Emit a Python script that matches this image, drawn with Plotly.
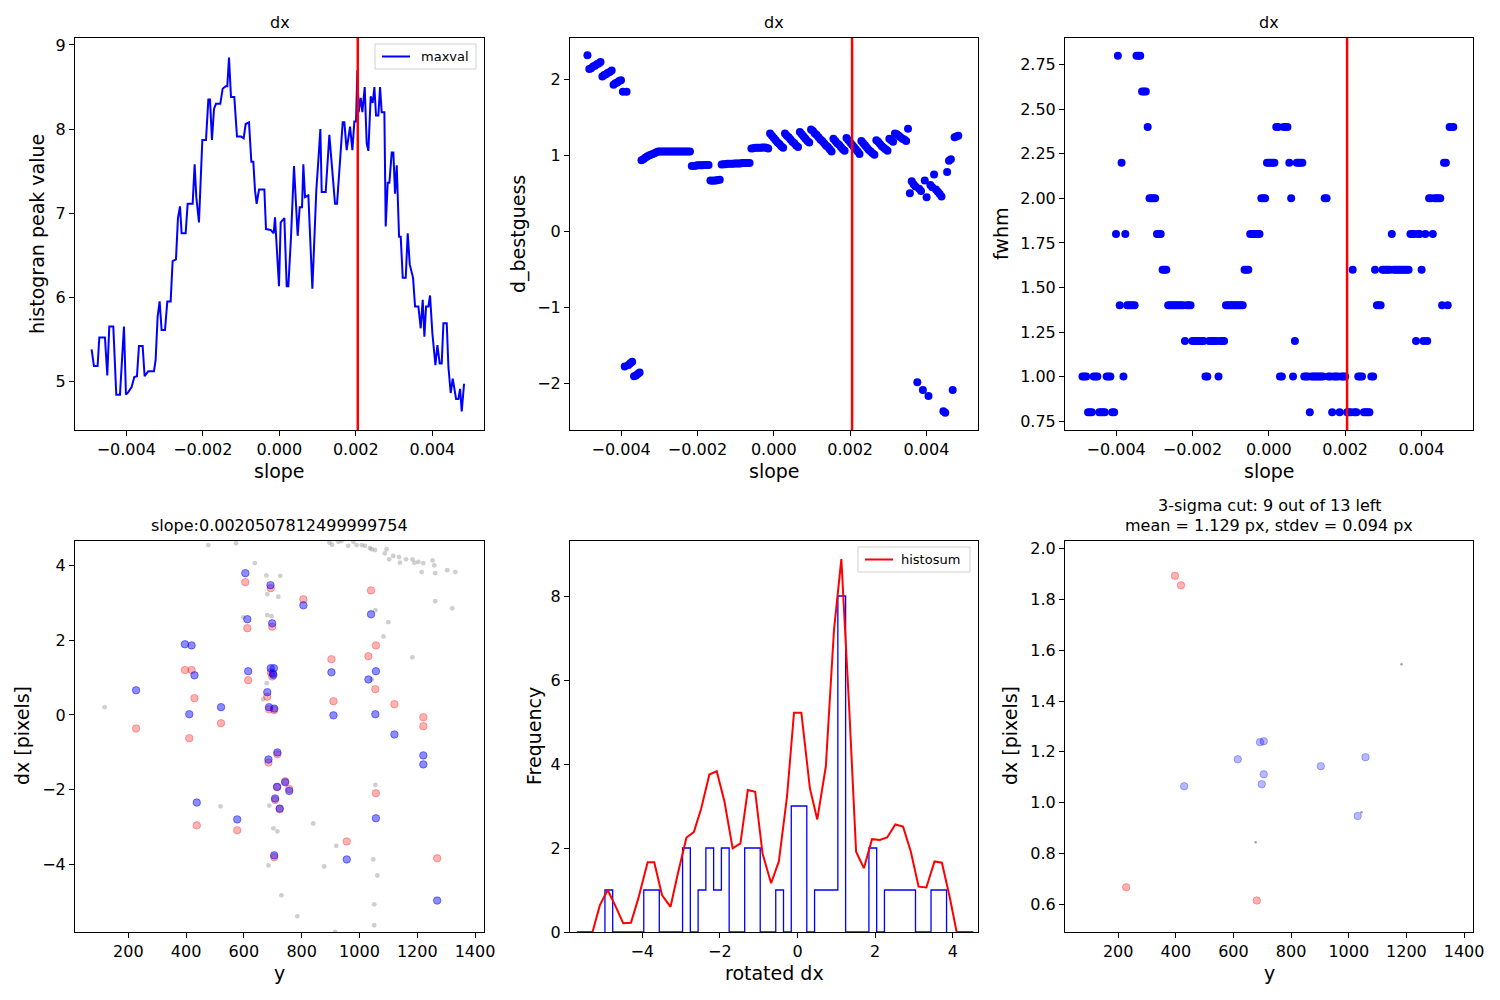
import numpy as np
import plotly.graph_objects as go

FONT = "DejaVu Sans"

# ---------------- data ----------------
RED_SLOPE = 0.0020507812499999754

# panel 1: histogram peak value vs slope (polyline vertices)
maxval_slope = [-0.004906, -0.004845, -0.004749, -0.004705, -0.004557, -0.004496, -0.004444, -0.004339, -0.004261, -0.004165,
                -0.004060, -0.004008, -0.003947, -0.003860, -0.003790, -0.003721, -0.003668, -0.003572, -0.003520, -0.003424,
                -0.003276, -0.003233, -0.003180, -0.003128, -0.003076, -0.002988, -0.002927, -0.002840, -0.002788, -0.002701,
                -0.002649, -0.002596, -0.002553, -0.002448, -0.002396, -0.002265, -0.002213, -0.002169, -0.002100, -0.002012,
                -0.001916, -0.001855, -0.001812, -0.001760, -0.001707, -0.001655, -0.001542, -0.001481, -0.001402, -0.001359,
                -0.001315, -0.001263, -0.001176, -0.001106, -0.001001, -0.000932, -0.000879, -0.000792, -0.000731, -0.000679,
                -0.000635, -0.000592, -0.000531, -0.000391, -0.000348, -0.000226, -0.000147, -0.000112, -0.000078, -0.000008,
                0.000036, 0.000132, 0.000193, 0.000236, 0.000306, 0.000384, 0.000480, 0.000533, 0.000594, 0.000628,
                0.000672, 0.000759, 0.000864, 0.000968, 0.001021, 0.001073, 0.001108, 0.001212, 0.001308, 0.001369,
                0.001456, 0.001509, 0.001587, 0.001657, 0.001700, 0.001761, 0.001849, 0.001910, 0.001962, 0.002005,
                0.002040, 0.002075, 0.002127, 0.002171, 0.002232, 0.002284, 0.002328, 0.002389, 0.002441, 0.002485,
                0.002528, 0.002589, 0.002633, 0.002676, 0.002746, 0.002781, 0.002833, 0.002877, 0.002938, 0.002981,
                0.003025, 0.003069, 0.003130, 0.003173, 0.003226, 0.003304, 0.003356, 0.003409, 0.003496, 0.003548,
                0.003635, 0.003696, 0.003748, 0.003792, 0.003836, 0.003897, 0.003940, 0.004001, 0.004080, 0.004132,
                0.004193, 0.004245, 0.004289, 0.004376, 0.004420, 0.004480, 0.004533, 0.004620, 0.004681, 0.004725,
                0.004768, 0.004829]
maxval = [5.38, 5.18, 5.18, 5.52, 5.52, 5.07, 5.65, 5.65, 4.84, 4.84,
          5.65, 4.84, 4.87, 4.93, 5.05, 5.06, 5.42, 5.42, 5.06, 5.12,
          5.12, 5.25, 5.77, 5.95, 5.61, 5.61, 5.95, 5.95, 6.43, 6.45,
          6.94, 7.08, 6.76, 6.76, 7.11, 7.11, 7.58, 7.19, 6.89, 7.87,
          7.87, 8.35, 8.35, 7.87, 8.24, 8.30, 8.30, 8.48, 8.51, 8.51,
          8.85, 8.38, 8.38, 7.91, 7.91, 7.89, 8.06, 8.08, 7.61, 7.61,
          7.27, 7.11, 7.28, 7.28, 6.81, 6.80, 6.76, 6.95, 6.68, 6.13,
          6.89, 6.94, 6.13, 6.13, 6.72, 7.56, 6.73, 7.07, 7.07, 7.58,
          7.19, 7.21, 6.10, 7.28, 7.63, 8.00, 7.25, 7.25, 7.93, 7.59,
          7.11, 7.11, 7.63, 8.08, 8.08, 7.75, 8.03, 7.75, 8.09, 8.09,
          8.70, 8.20, 8.37, 8.20, 8.50, 7.83, 7.74, 8.39, 8.31, 8.50,
          8.16, 8.16, 8.50, 8.20, 8.20, 6.84, 7.36, 7.36, 7.72, 7.72,
          7.23, 7.57, 6.72, 6.72, 6.23, 6.23, 6.76, 6.39, 6.23, 5.89,
          5.89, 5.63, 5.97, 5.53, 5.89, 5.89, 6.02, 5.57, 5.19, 5.43,
          5.21, 5.21, 5.69, 5.69, 5.17, 4.86, 5.03, 4.79, 4.79, 4.91,
          4.64, 4.97]

# slope grid (shift in pixels over 1024 px)
shift_px = np.round(np.arange(-5.0, 5.0, 0.05), 2)
slopes = shift_px / 1024.0

# panel 2: d_bestguess per slope
d_bestguess = [2.32, 2.14, 2.15, 2.17, 2.18, 2.20, 2.21, 2.23, 2.04, 2.06,
               2.07, 2.09, 2.10, 2.12, 1.93, 1.95, 1.96, 1.98, 1.99, 1.84,
               -1.78, 1.84, -1.76, -1.74, -1.72, -1.91, -1.90, -1.88, -1.86, 0.935,
               0.95, 0.97, 0.985, 1.00, 1.01, 1.02, 1.03, 1.04, 1.05, 1.05,
               1.05, 1.05, 1.05, 1.05, 1.05, 1.05, 1.05, 1.05, 1.05, 1.05,
               1.05, 1.05, 1.05, 1.05, 1.05, 1.05, 0.86, 0.86, 0.865, 0.87,
               0.87, 0.87, 0.87, 0.875, 0.875, 0.875, 0.67, 0.665, 0.67, 0.67,
               0.675, 0.68, 0.88, 0.885, 0.885, 0.89, 0.89, 0.89, 0.89, 0.895,
               0.895, 0.895, 0.895, 0.90, 0.90, 0.90, 0.90, 0.90, 1.09, 1.095,
               1.10, 1.10, 1.10, 1.10, 1.105, 1.105, 1.10, 1.09, 1.29, 1.26,
               1.23, 1.20, 1.17, 1.15, 1.12, 1.10, 1.29, 1.26, 1.24, 1.21,
               1.18, 1.16, 1.13, 1.11, 1.31, 1.28, 1.25, 1.22, 1.19, 1.17,
               1.34, 1.32, 1.29, 1.27, 1.24, 1.21, 1.19, 1.16, 1.13, 1.11,
               1.08, 1.05, 1.22, 1.19, 1.16, 1.14, 1.11, 1.08, 1.06, 1.23,
               1.20, 1.17, 1.14, 1.11, 1.08, 1.05, 1.02, 1.19, 1.16, 1.13,
               1.10, 1.07, 1.05, 1.03, 1.01, 1.20, 1.18, 1.15, 1.12, 1.10,
               1.08, 1.06, 1.22, 1.20, 1.18, 1.29, 1.28, 1.26, 1.24, 1.22,
               1.21, 1.19, 1.35, 0.50, 0.66, 0.62, 0.59, -1.99, 0.56, 0.53,
               -2.09, 0.67, 0.45, -2.17, 0.61, 0.58, 0.75, 0.55, 0.52, 0.49,
               0.46, -2.37, -2.39, 0.78, 0.93, 0.95, -2.09, 1.24, 1.25, 1.26]

# panel 3: fwhm per slope
fwhm = [1.0, 1.0, 1.0, 0.8, 0.8, 0.8, 1.0, 1.0, 1.0, 0.8,
        0.8, 0.8, 0.8, 1.0, 1.0, 1.0, 0.8, 0.8, 1.8, 2.8,
        1.4, 2.2, 1.0, 1.8, 1.4, 1.4, 1.4, 1.4, 1.4, 2.8,
        2.8, 2.8, 2.6, 2.6, 2.6, 2.4, 2.0, 2.0, 2.0, 2.0,
        1.8, 1.8, 1.8, 1.6, 1.6, 1.6, 1.4, 1.4, 1.4, 1.4,
        1.4, 1.4, 1.4, 1.4, 1.4, 1.2, 1.4, 1.4, 1.4, 1.2,
        1.2, 1.2, 1.2, 1.2, 1.2, 1.2, 1.0, 1.0, 1.2, 1.2,
        1.2, 1.2, 1.2, 1.0, 1.2, 1.2, 1.2, 1.4, 1.4, 1.4,
        1.4, 1.4, 1.4, 1.4, 1.4, 1.4, 1.4, 1.6, 1.6, 1.6,
        1.8, 1.8, 1.8, 1.8, 1.8, 1.8, 2.0, 2.0, 2.0, 2.2,
        2.2, 2.2, 2.2, 2.2, 2.4, 2.4, 1.0, 1.0, 2.4, 2.4,
        2.4, 2.2, 2.0, 1.0, 1.2, 2.2, 2.2, 2.2, 2.2, 1.0,
        1.0, 1.0, 0.8, 1.0, 1.0, 1.0, 1.0, 1.0, 1.0, 1.0,
        2.0, 2.0, 1.0, 1.0, 0.8, 1.0, 1.0, 1.0, 0.8, 1.0,
        1.0, 1.0, 0.8, 0.8, 0.8, 1.6, 0.8, 0.8, 1.0, 1.0,
        1.0, 0.8, 0.8, 0.8, 0.8, 1.0, 1.0, 1.6, 1.4, 1.4,
        1.4, 1.6, 1.6, 1.6, 1.6, 1.6, 1.8, 1.6, 1.6, 1.6,
        1.6, 1.6, 1.6, 1.6, 1.6, 1.6, 1.8, 1.8, 1.8, 1.2,
        1.8, 1.8, 1.6, 1.2, 1.8, 1.2, 2.0, 2.0, 1.8, 2.0,
        2.0, 2.0, 2.0, 1.4, 2.2, 2.2, 1.4, 2.4, 2.4, 2.4]

# panel 4: dx vs y
gray_y = [477, 573, 638, 678, 726, 681, 719, 598, 681, 696, 896, 905, 927, 938, 961, 979, 990, 1008, 1019, 1036,
          1042, 1054, 1094, 1088, 1103, 1117, 1137, 1140, 1161, 1183, 1190, 1204, 1221, 1253, 1259, 1215, 1262, 1304, 1332, 1262,
          1321, 1055, 1100, 1083, 1183, 679, 667, 118, 1043, 688, 519, 840, 702, 716, 920, 878, 685, 1048, 1062, 730,
          1051, 785, 1051, 916, 1055]
gray_dx = [4.54, 4.59, 4.06, 3.73, 3.72, 3.23, 3.16, 2.61, 2.67, 2.64, 4.61, 4.55, 4.63, 4.65, 4.52, 4.63, 4.54, 4.54, 4.52, 4.46,
           4.43, 4.41, 4.43, 4.32, 4.16, 4.25, 4.22, 4.07, 4.16, 4.16, 4.07, 4.09, 4.06, 4.13, 4.00, 3.82, 3.79, 3.87, 3.82, 3.04,
           2.85, 2.80, 2.48, 2.10, 1.54, 0.85, 0.42, 0.21, 0.95, -2.42, -2.44, -2.90, -3.03, -3.11, -3.50, -4.05, -4.02, -3.86, -4.29, -4.82,
           -5.06, -5.38, -5.62, -5.80, -1.87]
red_y = [605, 693, 806, 1040, 612, 698, 1057, 903, 1031, 396, 419, 615, 693, 698, 1055, 429, 681, 910, 1121, 1221,
         1221, 227, 521, 411, 687, 705, 716, 685, 743, 757, 715, 708, 724, 1057, 437, 577, 956, 1269, 705]
red_dx = [3.55, 3.39, 3.09, 3.33, 2.32, 2.36, 1.86, 1.49, 1.57, 1.20, 1.20, 0.93, 1.14, 1.03, 0.69, 0.45, 0.49, 0.37, 0.29, -0.06,
          -0.30, -0.36, -0.22, -0.62, 0.15, 0.13, -1.05, -1.27, -1.77, -1.98, -1.93, -2.27, -2.52, -2.09, -2.95, -3.08, -3.38, -3.83, -3.80]
blue_y = [605, 692, 806, 612, 698, 396, 419, 1040, 429, 615, 693, 704, 700, 702, 903, 1057, 1031, 227, 681, 521,
          411, 687, 705, 910, 1055, 1121, 1221, 1221, 716, 685, 743, 715, 757, 708, 724, 437, 577, 1057, 705, 956, 1269]
blue_dx = [3.79, 3.47, 2.93, 2.56, 2.45, 1.89, 1.86, 2.69, 1.06, 1.17, 1.25, 1.25, 1.11, 1.07, 1.14, 1.17, 0.95, 0.66, 0.61, 0.21,
           0.02, 0.21, 0.17, -0.01, 0.02, -0.52, -1.08, -1.32, -1.00, -1.19, -1.80, -1.92, -2.03, -2.23, -2.50, -2.34, -2.79, -2.76, -3.75, -3.86, -4.96]

# panel 5: histogram of rotated dx and histosum
hist_edges = [-4.96, -4.76, -4.56, -4.36, -4.16, -3.96, -3.76, -3.56, -3.36, -3.16, -2.96, -2.76, -2.56, -2.36, -2.16,
              -1.96, -1.76, -1.56, -1.36, -1.16, -0.96, -0.76, -0.56, -0.36, -0.16, 0.04, 0.24, 0.44, 0.64, 0.84,
              1.04, 1.24, 1.44, 1.64, 1.84, 2.04, 2.24, 2.44, 2.64, 2.84, 3.04, 3.24, 3.44, 3.64, 3.84]
hist_counts = [1, 0, 0, 0, 0, 1, 1, 0, 0, 0, 2, 0, 1, 2, 1, 2, 0, 0, 2, 2, 0, 0, 1, 0, 3, 3, 0, 1, 1, 1,
               8, 0, 0, 0, 2, 0, 1, 1, 1, 1, 0, 0, 1, 1]
histosum_x = [-5.68, -5.28, -5.09, -4.89, -4.70, -4.49, -4.29, -4.10, -3.86, -3.69, -3.49, -3.27, -3.08, -2.86, -2.67,
              -2.48, -2.27, -2.08, -1.88, -1.67, -1.47, -1.28, -1.09, -0.90, -0.68, -0.48, -0.27, -0.09, 0.10, 0.32,
              0.51, 0.73, 0.94, 1.13, 1.33, 1.51, 1.71, 1.92, 2.12, 2.31, 2.52, 2.72, 2.92, 3.12, 3.32, 3.53, 3.72,
              3.92, 4.10, 4.53]
histosum_y = [0, 0, 0.64, 1.00, 0.64, 0.21, 0.22, 0.80, 1.66, 1.66, 0.88, 0.60, 1.40, 2.25, 2.38, 2.94, 3.75, 3.83, 3.10, 1.99,
              2.11, 3.38, 3.34, 1.87, 1.16, 1.68, 3.22, 5.22, 5.22, 3.42, 2.68, 3.94, 7.19, 8.88, 5.37, 1.91, 1.52, 2.21,
              2.19, 2.25, 2.56, 2.51, 1.91, 1.08, 1.06, 1.68, 1.65, 0.84, 0, 0]

# panel 6: after 3-sigma cut
kept_y = [692, 705, 615, 1058, 903, 705, 698, 429, 1031]
kept_dx = [1.238, 1.242, 1.171, 1.179, 1.144, 1.112, 1.073, 1.065, 0.948]
cut_y = [397, 418, 228, 681]
cut_dx = [1.892, 1.855, 0.668, 0.616]
tiny_y = [1183, 1044, 677]
tiny_dx = [1.545, 0.963, 0.845]

# ---------------- figure ----------------
W, H = 1500, 1000
col_px = [(75, 484), (570, 978), (1065, 1473)]
row_px = [(38, 430), (541, 932)]


def xdom(c):
    return [col_px[c][0] / W, col_px[c][1] / W]


def ydom(r):
    return [1 - row_px[r][1] / H, 1 - row_px[r][0] / H]


def px_x(v):
    return v / W


def px_y(v):
    return 1 - v / H


def mfmt(v, fmt):
    s = format(v, fmt)
    return s.replace("-", "\u2212")


fig = go.Figure()

# panel 1
fig.add_trace(go.Scatter(x=maxval_slope, y=maxval, mode="lines", name="maxval",
                         line=dict(color="blue", width=2), xaxis="x", yaxis="y", showlegend=False))
# panel 2
fig.add_trace(go.Scatter(x=slopes, y=d_bestguess, mode="markers",
                         marker=dict(color="blue", size=8), xaxis="x2", yaxis="y2", showlegend=False))
# panel 3
fig.add_trace(go.Scatter(x=slopes, y=fwhm, mode="markers",
                         marker=dict(color="blue", size=8), xaxis="x3", yaxis="y3", showlegend=False))
# panel 4
fig.add_trace(go.Scatter(x=gray_y, y=gray_dx, mode="markers",
                         marker=dict(color="rgba(128,128,128,0.38)", size=4.8),
                         xaxis="x4", yaxis="y4", showlegend=False))
fig.add_trace(go.Scatter(x=red_y, y=red_dx, mode="markers",
                         marker=dict(color="rgba(255,0,0,0.3)", size=7.5,
                                     line=dict(color="rgba(255,0,0,0.3)", width=1)),
                         xaxis="x4", yaxis="y4", showlegend=False))
fig.add_trace(go.Scatter(x=blue_y, y=blue_dx, mode="markers",
                         marker=dict(color="rgba(0,0,255,0.45)", size=7.5,
                                     line=dict(color="rgba(0,0,255,0.45)", width=1)),
                         xaxis="x4", yaxis="y4", showlegend=False))
# panel 5
step_x = [hist_edges[0]] + hist_edges
step_y = [0] + hist_counts + [0]
fig.add_trace(go.Scatter(x=step_x, y=step_y, mode="lines", line_shape="hv",
                         line=dict(color="blue", width=1.3), xaxis="x5", yaxis="y5", showlegend=False))
fig.add_trace(go.Scatter(x=histosum_x, y=histosum_y, mode="lines", name="histosum",
                         line=dict(color="red", width=2), xaxis="x5", yaxis="y5", showlegend=False))
# panel 6
fig.add_trace(go.Scatter(x=tiny_y, y=tiny_dx, mode="markers",
                         marker=dict(color="rgba(100,100,100,0.6)", size=2.5),
                         xaxis="x6", yaxis="y6", showlegend=False))
fig.add_trace(go.Scatter(x=cut_y, y=cut_dx, mode="markers",
                         marker=dict(color="rgba(255,0,0,0.3)", size=7.5,
                                     line=dict(color="rgba(255,0,0,0.3)", width=1)),
                         xaxis="x6", yaxis="y6", showlegend=False))
fig.add_trace(go.Scatter(x=kept_y, y=kept_dx, mode="markers",
                         marker=dict(color="rgba(0,0,255,0.28)", size=7.5,
                                     line=dict(color="rgba(0,0,255,0.28)", width=1)),
                         xaxis="x6", yaxis="y6", showlegend=False))

# red vertical lines
for ax in ["x", "x2", "x3"]:
    yref = "y" + ax[1:] + " domain" if len(ax) > 1 else "y domain"
    fig.add_shape(type="line", xref=ax, yref=yref, x0=RED_SLOPE, x1=RED_SLOPE, y0=0, y1=1,
                  line=dict(color="red", width=2.5), layer="above")

tickfont = dict(family=FONT, size=16, color="black")
base = dict(showline=True, mirror=True, linecolor="black", linewidth=1, ticks="outside",
            ticklen=5, tickwidth=1, tickcolor="black", showgrid=False, zeroline=False,
            tickfont=tickfont, automargin=False)

slope_ticks = [-0.004, -0.002, 0.0, 0.002, 0.004]
slope_text = [mfmt(v, ".3f") for v in slope_ticks]
ypix_ticks = [200, 400, 600, 800, 1000, 1200, 1400]
ypix_text = [str(v) for v in ypix_ticks]

layout_axes = {}
for i, c in enumerate([0, 1, 2]):
    n = "" if i == 0 else str(i + 1)
    layout_axes["xaxis" + n] = dict(base, domain=xdom(c), anchor="y" + n, range=[-0.00534, 0.00535],
                                    tickvals=slope_ticks, ticktext=slope_text)
layout_axes["yaxis"] = dict(base, domain=ydom(0), anchor="x", range=[4.42, 9.083],
                            tickvals=[5, 6, 7, 8, 9], ticktext=["5", "6", "7", "8", "9"])
layout_axes["yaxis2"] = dict(base, domain=ydom(0), anchor="x2", range=[-2.618, 2.547],
                             tickvals=[-2, -1, 0, 1, 2], ticktext=[mfmt(v, "d") for v in [-2, -1, 0, 1, 2]])
fw_ticks = [0.75, 1.0, 1.25, 1.5, 1.75, 2.0, 2.25, 2.5, 2.75]
layout_axes["yaxis3"] = dict(base, domain=ydom(0), anchor="x3", range=[0.7, 2.9],
                             tickvals=fw_ticks, ticktext=[format(v, ".2f") for v in fw_ticks])
layout_axes["xaxis4"] = dict(base, domain=xdom(0), anchor="y4", range=[15.6, 1431],
                             tickvals=ypix_ticks, ticktext=ypix_text)
layout_axes["yaxis4"] = dict(base, domain=ydom(1), anchor="x4", range=[-5.80, 4.65],
                             tickvals=[-4, -2, 0, 2, 4], ticktext=[mfmt(v, "d") for v in [-4, -2, 0, 2, 4]])
layout_axes["xaxis5"] = dict(base, domain=xdom(1), anchor="y5", range=[-5.86, 4.65],
                             tickvals=[-4, -2, 0, 2, 4], ticktext=[mfmt(v, "d") for v in [-4, -2, 0, 2, 4]])
layout_axes["yaxis5"] = dict(base, domain=ydom(1), anchor="x5", range=[0, 9.31],
                             tickvals=[0, 2, 4, 6, 8], ticktext=["0", "2", "4", "6", "8"])
layout_axes["xaxis6"] = dict(base, domain=xdom(2), anchor="y6", range=[15.6, 1431],
                             tickvals=ypix_ticks, ticktext=ypix_text)
sel_ticks = [0.6, 0.8, 1.0, 1.2, 1.4, 1.6, 1.8, 2.0]
layout_axes["yaxis6"] = dict(base, domain=ydom(1), anchor="x6", range=[0.492, 2.029],
                             tickvals=sel_ticks, ticktext=[format(v, ".1f") for v in sel_ticks])

# annotations: titles and axis labels
ann = []
tfont = dict(family=FONT, size=16, color="black")
lfont = dict(family=FONT, size=19, color="black")
gfont = dict(family=FONT, size=13, color="black")
centers = [(a + b) / 2 for a, b in col_px]
for cx in centers:
    ann.append(dict(text="dx", x=px_x(cx), y=px_y(22), xref="paper", yref="paper",
                    showarrow=False, font=tfont, xanchor="center", yanchor="middle"))
ann.append(dict(text="slope:0.0020507812499999754", x=px_x(centers[0]), y=px_y(525), xref="paper",
                yref="paper", showarrow=False, font=tfont, xanchor="center", yanchor="middle"))
ann.append(dict(text="3-sigma cut: 9 out of 13 left", x=px_x(centers[2]), y=px_y(505), xref="paper",
                yref="paper", showarrow=False, font=tfont, xanchor="center", yanchor="middle"))
ann.append(dict(text="mean = 1.129 px, stdev = 0.094 px", x=px_x(centers[2]), y=px_y(525), xref="paper",
                yref="paper", showarrow=False, font=tfont, xanchor="center", yanchor="middle"))
for cx in centers:
    ann.append(dict(text="slope", x=px_x(cx), y=px_y(471), xref="paper", yref="paper",
                    showarrow=False, font=lfont, xanchor="center", yanchor="middle"))
for cx, t in zip(centers, ["y", "rotated dx", "y"]):
    ann.append(dict(text=t, x=px_x(cx), y=px_y(973), xref="paper", yref="paper",
                    showarrow=False, font=lfont, xanchor="center", yanchor="middle"))
for xx, yy, t in [(37, 234, "histogran peak value"), (518, 234, "d_bestguess"), (1001, 234, "fwhm"),
                  (22, 736, "dx [pixels]"), (534, 736, "Frequency"), (1010, 736, "dx [pixels]")]:
    ann.append(dict(text=t, x=px_x(xx), y=px_y(yy), xref="paper", yref="paper", textangle=-90,
                    showarrow=False, font=lfont, xanchor="center", yanchor="middle"))

# hand-drawn legends (box, line sample, label)
shapes = []
for (bx0, bx1, by0, by1, lx0, lx1, col, label, tx) in [
        (375, 476, 44, 69, 382, 410, "blue", "maxval", 419),
        (858, 970, 547, 572, 865, 893, "red", "histosum", 899)]:
    shapes.append(dict(type="rect", xref="paper", yref="paper", x0=px_x(bx0), x1=px_x(bx1),
                       y0=px_y(by1), y1=px_y(by0), line=dict(color="#d0d0d0", width=1),
                       fillcolor="rgba(255,255,255,0.8)", layer="above"))
    ym = (by0 + by1) / 2
    shapes.append(dict(type="line", xref="paper", yref="paper", x0=px_x(lx0), x1=px_x(lx1),
                       y0=px_y(ym), y1=px_y(ym), line=dict(color=col, width=2), layer="above"))
    ann.append(dict(text=label, x=px_x(tx), y=px_y(ym), xref="paper", yref="paper", showarrow=False,
                    font=gfont, xanchor="left", yanchor="middle"))

fig.update_layout(
    template="none",
    width=W, height=H, autosize=False,
    margin=dict(l=0, r=0, t=0, b=0, pad=0, autoexpand=False),
    paper_bgcolor="white", plot_bgcolor="white",
    font=dict(family=FONT, color="black"),
    annotations=ann,
    shapes=list(fig.layout.shapes) + shapes,
    showlegend=False,
    **layout_axes,
)

fig.write_html("out.html", config={"responsive": False})
